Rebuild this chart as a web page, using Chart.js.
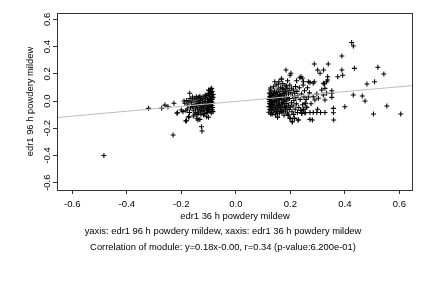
<!DOCTYPE html>
<html>
<head>
<meta charset="utf-8">
<script src="https://cdn.jsdelivr.net/npm/chart.js@4/dist/chart.umd.min.js"></script>
<style>
html,body{margin:0;padding:0;background:#fff;}
#wrap{width:432px;height:288px;}
</style>
</head>
<body>
<div id="wrap"><canvas id="c" width="432" height="288"></canvas></div>
<script>
// ---- data ----
const xTicks = [-0.6, -0.4, -0.2, 0.0, 0.2, 0.4, 0.6];
const yTicks = [-0.6, -0.4, -0.2, 0.0, 0.2, 0.4, 0.6];
const xRange = [-0.656, 0.65];
const yRange = [-0.654, 0.647];
const fitSlope = 0.18;
const fitIntercept = -0.003;

const outlierPoints = [
  [-0.484,-0.40],[-0.23,-0.25],[-0.32,-0.054],[-0.272,-0.054],[-0.26,-0.03],[-0.249,-0.042],
  [-0.227,-0.017],[-0.216,-0.09],[-0.214,-0.086],[-0.20,-0.066],[-0.19,0.0],[-0.194,-0.078],
  [-0.187,-0.017],[-0.184,-0.147],[-0.181,-0.145],[-0.172,-0.12],[-0.174,-0.115],[-0.156,-0.11],
  [-0.143,-0.127],[-0.139,-0.14],[-0.132,-0.135],[-0.126,-0.189],[-0.124,-0.22],[-0.10,-0.12],
  [-0.107,-0.115],[-0.169,0.057],[-0.10,0.081],[-0.092,0.086],[-0.098,0.076],[-0.089,0.093]
];

const leftCluster = [
  [-0.183,-0.072],[-0.180,0.004],[-0.178,-0.058],[-0.176,-0.030],[-0.172,-0.005],[-0.170,-0.085],
  [-0.168,0.018],[-0.166,-0.050],[-0.163,-0.012],[-0.160,-0.041],[-0.158,0.008],[-0.156,-0.068],
  [-0.153,-0.027],[-0.151,0.021],[-0.149,-0.052],[-0.147,-0.083],[-0.146,-0.005],[-0.144,-0.036],
  [-0.142,0.015],[-0.140,-0.061],[-0.139,-0.019],[-0.137,-0.088],[-0.136,0.026],[-0.134,-0.046],
  [-0.133,-0.008],[-0.131,-0.072],[-0.130,0.004],[-0.128,-0.031],[-0.127,-0.057],[-0.125,0.019],
  [-0.124,-0.079],[-0.122,-0.014],[-0.121,-0.043],[-0.120,0.031],[-0.118,-0.066],[-0.117,-0.025],
  [-0.116,0.009],[-0.114,-0.092],[-0.113,-0.050],[-0.112,-0.003],[-0.110,0.024],[-0.109,-0.035],
  [-0.108,-0.071],[-0.107,0.041],[-0.106,-0.018],[-0.105,-0.056],[-0.104,0.012],[-0.103,-0.084],
  [-0.102,-0.029],[-0.101,0.052],[-0.100,-0.009],[-0.099,-0.063],[-0.098,0.029],[-0.097,-0.041],
  [-0.096,0.006],[-0.095,-0.076],[-0.094,0.047],[-0.093,-0.022],[-0.092,0.018],[-0.091,-0.052],
  [-0.090,0.061],[-0.090,-0.088],[-0.089,-0.004],[-0.088,0.036],[-0.088,-0.033],[-0.087,-0.065],
  [-0.086,0.014],[-0.086,0.072],[-0.085,-0.047],[-0.085,-0.015],[-0.084,0.027],[-0.084,-0.078],
  [-0.083,0.048],[-0.150,-0.095],[-0.142,-0.100],[-0.128,-0.098],[-0.118,-0.102],[-0.159,0.030],
  [-0.145,0.032],[-0.132,0.036],[-0.112,0.044],[-0.096,0.058]
];

const rightCluster = [
  [0.121,-0.082],[0.122,-0.041],[0.122,0.012],[0.123,0.058],[0.124,-0.019],[0.125,0.034],
  [0.125,-0.063],[0.126,0.081],[0.127,-0.004],[0.128,-0.095],[0.128,0.046],[0.129,-0.030],
  [0.130,0.022],[0.131,-0.071],[0.132,0.067],[0.133,-0.012],[0.134,-0.052],[0.135,0.040],
  [0.136,0.003],[0.137,-0.086],[0.138,0.105],[0.139,-0.035],[0.140,0.028],[0.141,-0.064],
  [0.142,0.074],[0.143,-0.008],[0.144,0.051],[0.145,-0.101],[0.146,-0.045],[0.147,0.015],
  [0.148,0.118],[0.149,-0.077],[0.150,0.063],[0.151,-0.022],[0.152,0.036],[0.153,-0.118],
  [0.154,-0.058],[0.155,0.088],[0.156,0.006],[0.157,-0.037],[0.158,0.142],[0.159,0.047],
  [0.160,-0.090],[0.161,-0.015],[0.162,0.071],[0.163,0.024],[0.164,-0.068],[0.165,0.101],
  [0.166,-0.044],[0.167,0.162],[0.168,0.011],[0.169,-0.082],[0.170,0.056],[0.171,-0.027],
  [0.172,0.128],[0.173,-0.060],[0.174,0.032],[0.175,-0.005],[0.176,0.085],[0.177,-0.104],
  [0.178,0.045],[0.179,-0.038],[0.180,0.002],[0.181,0.113],[0.182,-0.074],[0.183,0.068],
  [0.184,0.228],[0.185,-0.019],[0.186,0.027],[0.187,-0.052],[0.188,0.094],[0.189,-0.088],
  [0.190,0.149],[0.191,0.008],[0.192,-0.103],[0.193,0.052],[0.194,-0.031],[0.195,0.079],
  [0.196,-0.063],[0.197,0.019],[0.198,0.118],[0.199,0.190],[0.199,-0.127],[0.200,-0.045],
  [0.202,0.204],[0.202,0.061],[0.204,-0.012],[0.205,0.094],[0.206,-0.079],[0.207,-0.152],
  [0.208,0.035],[0.210,-0.036],[0.211,0.081],[0.212,-0.098],[0.213,0.004],[0.215,-0.127],
  [0.216,0.057],[0.218,-0.060],[0.219,0.107],[0.220,0.024],[0.222,-0.021],[0.223,0.149],
  [0.224,0.071],[0.226,-0.085],[0.228,0.040],[0.229,-0.140],[0.231,-0.048],[0.233,0.097],
  [0.235,0.171],[0.236,0.012],[0.238,-0.070],[0.239,0.179],[0.241,0.052],[0.242,-0.090],
  [0.244,0.167],[0.245,-0.028],[0.247,0.118],[0.248,-0.061],[0.248,0.142],[0.250,0.030],
  [0.252,0.076],[0.254,-0.086],[0.255,-0.017],[0.258,0.011],[0.260,-0.046],[0.263,0.098],
  [0.266,0.142],[0.123,-0.006],[0.126,0.028],[0.129,-0.048],[0.132,0.004],[0.135,-0.025],
  [0.138,0.055],[0.141,-0.010],[0.144,0.022],[0.147,-0.060],[0.150,0.000],[0.153,0.048],
  [0.156,-0.030],[0.159,0.018],[0.162,-0.050],[0.165,0.040],[0.168,-0.012],[0.171,0.090],
  [0.174,-0.075],[0.177,0.015],[0.180,0.060],[0.183,-0.045],[0.186,0.110],[0.156,0.125],
  [0.143,0.142],[0.168,0.162],[0.127,0.095],[0.133,-0.098]
];

const scatteredPoints = [
  [0.272,0.137],[0.288,0.142],[0.284,0.130],[0.321,0.130],[0.333,0.142],[0.325,0.125],
  [0.288,0.272],[0.339,0.272],[0.300,0.228],[0.309,0.204],[0.322,0.228],[0.337,0.179],
  [0.337,0.154],[0.374,0.179],[0.389,0.228],[0.392,0.190],[0.389,0.331],[0.425,0.430],
  [0.431,0.404],[0.435,0.240],[0.521,0.248],[0.543,0.199],[0.481,0.125],[0.509,0.142],
  [0.431,0.044],[0.464,0.037],[0.474,0.000],[0.554,-0.037],[0.505,-0.096],[0.605,-0.096],
  [0.400,-0.042],[0.358,-0.054],[0.358,-0.086],[0.359,-0.140],[0.327,-0.085],[0.311,-0.085],
  [0.297,-0.085],[0.284,-0.085],[0.272,-0.085],[0.272,-0.135],[0.281,-0.140],[0.327,0.007],
  [0.321,0.044],[0.333,0.057],[0.352,0.057],[0.352,0.027],[0.315,0.081],[0.327,0.093],
  [0.352,0.076],[0.284,0.032],[0.290,0.007],[0.303,0.020],[0.297,0.051],[0.255,-0.017],
  [0.260,-0.046],[0.248,-0.061],[0.215,-0.127],[0.229,-0.140],[0.207,-0.152],[0.242,-0.090],
  [0.254,-0.086],[0.153,-0.120],[0.153,-0.090],[0.192,-0.103],[0.199,-0.127],[0.270,0.060],
  [0.276,-0.020],[0.266,0.030],[0.300,-0.060]
];

const yTitle = 'edr1 96 h powdery mildew';
const xTitle = 'edr1 36 h powdery mildew';
const footLines = [
  'yaxis: edr1 96 h powdery mildew, xaxis: edr1 36 h powdery mildew',
  'Correlation of module: y=0.18x-0.00, r=0.34 (p-value:6.200e-01)'
];

// ---- chart ----
const FONT = '"Liberation Sans", Arial, Helvetica, sans-serif';
const allPts = outlierPoints.concat(leftCluster, rightCluster, scatteredPoints)
  .map(p => ({x: p[0], y: p[1]}));
const fitLine = xRange.map(x => ({x: x, y: fitSlope * x + fitIntercept}));

const boxPlugin = {
  id: 'box',
  afterDatasetsDraw(chart) {
    const {ctx, chartArea: a} = chart;
    ctx.save();
    ctx.strokeStyle = '#333';
    ctx.lineWidth = 1;
    ctx.strokeRect(Math.round(a.left) + 0.5, Math.round(a.top) + 0.5,
      Math.round(a.right - a.left) - 1, Math.round(a.bottom - a.top));
    ctx.restore();
  }
};

new Chart(document.getElementById('c'), {
  type: 'scatter',
  data: {
    datasets: [
      {
        type: 'line',
        data: fitLine,
        borderColor: '#bdbdbd',
        borderWidth: 1,
        pointRadius: 0,
        fill: false,
        order: 0
      },
      {
        data: allPts,
        pointStyle: 'cross',
        pointRadius: 2.5,
        pointBorderWidth: 1.05,
        borderColor: '#000',
        backgroundColor: '#000',
        order: 1
      }
    ]
  },
  options: {
    responsive: false,
    animation: false,
    events: [],
    layout: {padding: {left: 33, right: 19, top: 13, bottom: 0}},
    plugins: {
      legend: {display: false},
      tooltip: {enabled: false},
      title: {
        display: true,
        position: 'bottom',
        text: footLines,
        color: '#000',
        font: {family: FONT, size: 9.4, weight: 'normal', lineHeight: '15.6px'},
        padding: {top: 0, bottom: 32.9}
      }
    },
    scales: {
      x: {
        type: 'linear',
        min: xRange[0], max: xRange[1],
        afterBuildTicks: s => { s.ticks = xTicks.map(v => ({value: v})); },
        afterFit: s => { s.height = 33.9; },
        ticks: {
          color: '#000', padding: 4.3, maxRotation: 0,
          font: {family: FONT, size: 9.5},
          callback: v => v.toFixed(1)
        },
        grid: {drawOnChartArea: false, drawTicks: true, tickLength: 4, color: '#333'},
        border: {display: false},
        title: {display: true, text: xTitle, color: '#000',
          font: {family: FONT, size: 9.4}, padding: {top: 0, bottom: 2.2}}
      },
      y: {
        type: 'linear',
        min: yRange[0], max: yRange[1],
        afterBuildTicks: s => { s.ticks = yTicks.map(v => ({value: v})); },
        afterFit: s => { s.width = 24; },
        ticks: {
          color: '#000', padding: -3, minRotation: 90, maxRotation: 90,
          crossAlign: 'center',
          font: {family: FONT, size: 9.5},
          callback: v => v.toFixed(1)
        },
        grid: {drawOnChartArea: false, drawTicks: true, tickLength: 4, color: '#333'},
        border: {display: false},
        title: {display: true, text: yTitle, color: '#000',
          font: {family: FONT, size: 9.4}, padding: {top: -8.2, bottom: 0}}
      }
    }
  },
  plugins: [boxPlugin]
});
</script>
</body>
</html>
